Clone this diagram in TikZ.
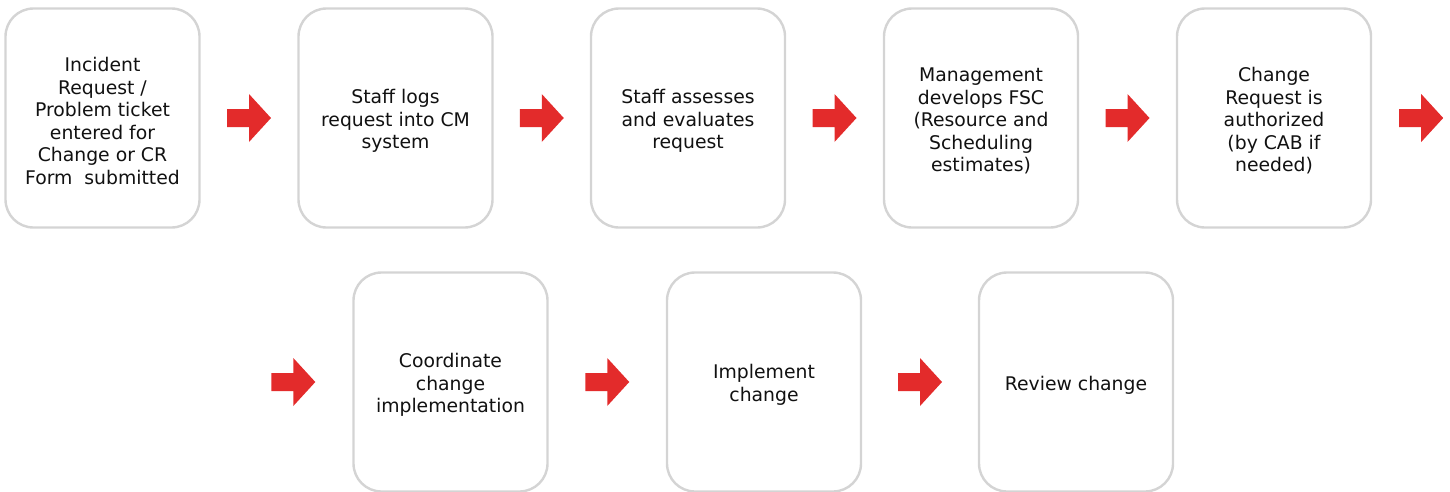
\documentclass[tikz,border=0pt]{standalone}
\usepackage{fontspec}
\setmainfont{DejaVu Sans}
\usetikzlibrary{calc}
\definecolor{boxgray}{HTML}{D4D4D4}
\definecolor{arrred}{HTML}{E32B2B}
\definecolor{txt}{HTML}{111111}
\tikzset{
  stepbox/.style={draw=boxgray, line width=2.4pt, rounded corners=28pt, fill=white,
    minimum width=194pt, minimum height=219pt, inner sep=0pt, align=center,
    text=txt, font=\fontsize{18.8pt}{22.5pt}\selectfont},
  steptext/.style={align=center, text=txt, inner sep=0pt, font=\fontsize{18.8pt}{22.5pt}\selectfont},
  redarrow/.pic={\fill[arrred] (-22,-9) -- (0,-9) -- (0,-24) -- (22,0) -- (0,24) -- (0,9) -- (-22,9) -- cycle;}
}
\begin{document}
\begin{tikzpicture}[x=1pt,y=-1pt]
\useasboundingbox (0,0) rectangle (1450,491);
\node[stepbox] (b1) at (102.5,118) {};
\node[stepbox] (b2) at (395.5,118) {};
\node[stepbox] (b3) at (688,118) {};
\node[stepbox] (b4) at (981,118) {};
\node[stepbox] (b5) at (1274,118) {};
\node[stepbox] (b6) at (450.5,382) {};
\node[stepbox] (b7) at (764,382) {};
\node[stepbox] (b8) at (1076,382) {};
\node[steptext] (t1) at ($(b1.center)+(0,3)$) {Incident\\Request /\\Problem ticket\\entered for\\Change or CR\\Form\ \ submitted};
\node[steptext] (t2) at ($(b2.center)+(0,3)$) {Staff logs\\request into CM\\system};
\node[steptext] (t3) at ($(b3.center)+(0,3)$) {Staff assesses\\and evaluates\\request};
\node[steptext] (t4) at ($(b4.center)+(0,3)$) {Management\\develops FSC\\(Resource and\\Scheduling\\estimates)};
\node[steptext] (t5) at ($(b5.center)+(0,3)$) {Change\\Request is\\authorized\\(by CAB if\\needed)};
\node[steptext] (t6) at ($(b6.center)+(0,3)$) {Coordinate\\change\\implementation};
\node[steptext] (t7) at ($(b7.center)+(0,3)$) {Implement\\change};
\node[steptext] (t8) at ($(b8.center)+(0,3)$) {Review change};
\coordinate (a1) at ($(b1.east)!0.5!(b2.west)$);
\coordinate (a2) at ($(b2.east)!0.5!(b3.west)$);
\coordinate (a3) at ($(b3.east)!0.5!(b4.west)$);
\coordinate (a4) at ($(b4.east)!0.5!(b5.west)$);
\coordinate (a5) at ($(b5.east)+(49,0)$);
\coordinate (a6) at ($(b6.west)+(-59,0)$);
\coordinate (a7) at ($(b6.east)!0.5!(b7.west)$);
\coordinate (a8) at ($(b7.east)!0.5!(b8.west)$);
\foreach \a in {a1,a2,a3,a4,a5,a6,a7,a8} \pic at (\a) {redarrow};
\end{tikzpicture}
\end{document}
